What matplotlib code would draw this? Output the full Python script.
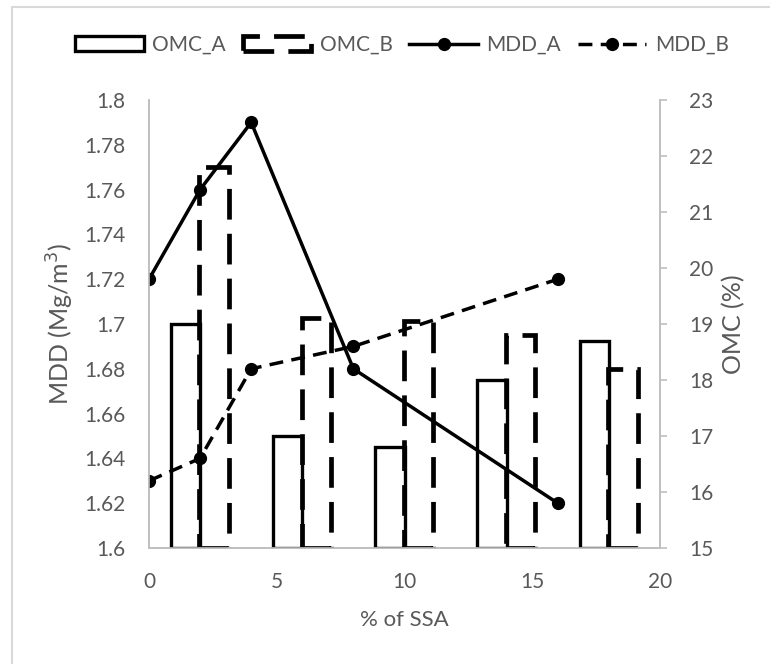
import matplotlib
matplotlib.use('Agg')
import matplotlib.pyplot as plt
from matplotlib.patches import Rectangle
from matplotlib.lines import Line2D
import numpy as np

# data
ssa = [0, 2, 4, 8, 16]
mdd_a = [1.72, 1.76, 1.79, 1.68, 1.62]
mdd_b = [1.63, 1.64, 1.68, 1.69, 1.72]
omc_a = [19.0, 17.0, 16.8, 18.0, 18.7]
omc_b = [21.8, 19.1, 19.05, 18.8, 18.2]

GREY = '#595959'
AXIS_GREY = '#BFBFBF'
plt.rcParams['font.family'] = ['Lato', 'DejaVu Sans']
plt.rcParams['font.size'] = 15

fig = plt.figure(figsize=(7.7, 6.64), dpi=100)
ax = fig.add_axes([149 / 770, 1 - 548 / 664, (660 - 149) / 770, (548 - 100) / 664])
ax2 = ax.twinx()

# bars sit in 5 category slots spread across the 0-20 axis
slot = 20 / len(omc_a)
centres = np.array([slot * (i + 0.5) for i in range(len(omc_a))])
w = 1.15
ax2.bar(centres - 0.57, np.array(omc_a) - 15, width=w, bottom=15,
        facecolor='none', edgecolor='black', linewidth=2.4, label='OMC_A')
ax2.bar(centres + 0.55, np.array(omc_b) - 15, width=w, bottom=15,
        facecolor='none', edgecolor='black', linewidth=3.4,
        linestyle=(0, (6.5, 3.0)), label='OMC_B')

ax2.plot(ssa, mdd_a, color='black', lw=2.5, marker='o', ms=8.5,
         transform=ax.transData, label='MDD_A')
ax2.plot(ssa, mdd_b, color='black', lw=2.5, ls=(0, (4.0, 2.4)), marker='o', ms=8.5,
         transform=ax.transData, label='MDD_B')

ax.set_xlim(0, 20)
ax.set_xticks([0, 5, 10, 15, 20])
ax.set_ylim(1.6, 1.8)
ax.set_yticks(np.arange(1.6, 1.801, 0.02))
ax.set_yticklabels(['%g' % round(v, 2) for v in np.arange(1.6, 1.801, 0.02)])
ax2.set_ylim(15, 23)
ax2.set_yticks(range(15, 24))

for a in (ax, ax2):
    a.spines['top'].set_visible(False)
    for s in ('left', 'right', 'bottom'):
        a.spines[s].set_color(AXIS_GREY)
        a.spines[s].set_linewidth(1.2)
ax.tick_params(axis='y', length=0, pad=17, labelcolor=GREY)
ax.tick_params(axis='x', length=0, pad=17, labelcolor=GREY)
ax2.tick_params(axis='y', length=5, width=1.2, color=AXIS_GREY, pad=16, labelcolor=GREY)

ax.set_xlabel('% of SSA', color=GREY, labelpad=13, fontsize=16)
ax.set_ylabel('MDD (Mg/m$^3$)', color=GREY, labelpad=6, fontsize=18)
ax2.set_ylabel('OMC (%)', color=GREY, labelpad=6, fontsize=18)

handles = [
    Rectangle((0, 0), 1, 1, facecolor='none', edgecolor='black', lw=2.4),
    Rectangle((0, 0), 1, 1, facecolor='none', edgecolor='black', lw=3.4, ls=(0, (6.5, 3.0))),
    Line2D([], [], color='black', lw=2.5, marker='o', ms=8.5),
    Line2D([], [], color='black', lw=2.5, ls=(0, (4.0, 2.4)), marker='o', ms=8.5),
]
leg = fig.legend(handles, ['OMC_A', 'OMC_B', 'MDD_A', 'MDD_B'], loc='center',
                 bbox_to_anchor=(0.522, 1 - 45 / 664), ncol=4, frameon=False,
                 handlelength=3.3, handletextpad=0.4, columnspacing=0.8)
for t in leg.get_texts():
    t.set_color(GREY)

# chart-area border (only left and top edges show in the crop)
fig.patches.append(Rectangle((12 / 770, -0.1), 1.2, 1 - 7 / 664 + 0.1,
                             transform=fig.transFigure, facecolor='none',
                             edgecolor='#D9D9D9', lw=1.5))

fig.savefig('out.png', dpi=100)
